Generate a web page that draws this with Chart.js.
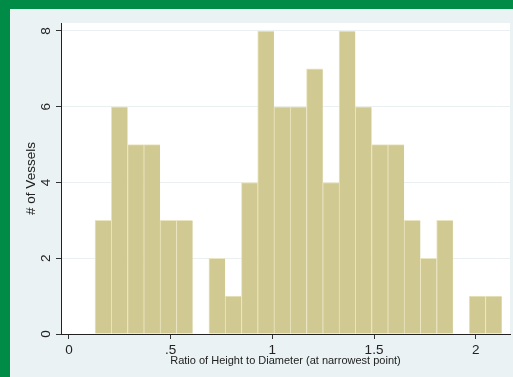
<!DOCTYPE html>
<html>
<head>
<meta charset="utf-8">
<script src="https://cdn.jsdelivr.net/npm/chart.js@4"></script>
<style>
  html, body { margin: 0; padding: 0; }
  body { width: 513px; height: 377px; background: #008b47; position: relative; overflow: hidden; }
  #frame { position: absolute; left: 10px; top: 9px; width: 503px; height: 368px; background: #eaf2f3; }
</style>
</head>
<body>
<div id="frame"><canvas id="histChart" width="503" height="368"></canvas></div>
<script>
// histogram bins: left edge of the first bin and the bin width
const binStart = 0.128;
const binWidth = 0.08;
const vesselCounts = [3, 6, 5, 5, 3, 3, 0, 2, 1, 4, 8, 6, 6, 7, 4, 8, 6, 5, 5, 3, 2, 3, 0, 1, 1];

const xTickValues = [0, 0.5, 1, 1.5, 2];
const xTickLabels = ['0', '.5', '1', '1.5', '2'];
const yTickValues = [0, 2, 4, 6, 8];
const yTickLabels = ['0', '2', '4', '6', '8'];

const fontFamily = '"Liberation Sans", Arial, sans-serif';
const textColor = '#222';

// white plot region behind the bars
const plotBackground = {
  id: 'plotBackground',
  beforeDraw(chart) {
    const { ctx, chartArea: a } = chart;
    ctx.save();
    ctx.fillStyle = '#ffffff';
    ctx.fillRect(a.left, a.top, a.right - a.left, a.bottom - a.top);
    ctx.restore();
  }
};

// y tick labels are drawn turned sideways
const rotatedYLabels = {
  id: 'rotatedYLabels',
  afterDraw(chart) {
    const { ctx } = chart;
    const yScale = chart.scales.y;
    ctx.save();
    ctx.font = '13.5px ' + fontFamily;
    ctx.fillStyle = textColor;
    ctx.textAlign = 'center';
    ctx.textBaseline = 'alphabetic';
    yTickValues.forEach((v, i) => {
      ctx.save();
      ctx.translate(40, yScale.getPixelForValue(v));
      ctx.rotate(-Math.PI / 2);
      ctx.fillText(yTickLabels[i], 0, 0);
      ctx.restore();
    });
    ctx.restore();
  }
};

new Chart(document.getElementById('histChart'), {
  type: 'bar',
  data: {
    datasets: [{
      label: '# of Vessels',
      data: vesselCounts.map((n, i) => ({ x: binStart + (i + 0.5) * binWidth, y: n })),
      backgroundColor: 'rgb(209, 201, 146)',
      borderColor: 'rgb(234, 229, 192)',
      borderWidth: { top: 1, left: 1, right: 0, bottom: 0 },
      borderSkipped: false,
      barPercentage: 1,
      categoryPercentage: 1
    }]
  },
  options: {
    responsive: false,
    animation: false,
    layout: { padding: { top: 14, right: 3, bottom: 0, left: 0 } },
    plugins: {
      legend: { display: false },
      tooltip: { enabled: false }
    },
    scales: {
      x: {
        type: 'linear',
        min: -0.0393,
        max: 2.1688,
        offset: false,
        afterBuildTicks: s => { s.ticks = xTickValues.map(v => ({ value: v })); },
        afterFit: s => { s.height = 43; },
        ticks: {
          callback: (v, i) => xTickLabels[i],
          font: { family: fontFamily, size: 13.5 },
          color: textColor,
          padding: 3,
          maxRotation: 0
        },
        grid: { offset: false, drawOnChartArea: false, tickLength: 5, tickColor: '#333' },
        border: { color: textColor, width: 1 },
        title: {
          display: true,
          text: 'Ratio of Height to Diameter (at narrowest point)',
          font: { family: fontFamily, size: 11 },
          color: textColor,
          padding: { top: 0, bottom: 9.4 }
        }
      },
      y: {
        min: 0,
        max: 8.211,
        afterBuildTicks: s => { s.ticks = yTickValues.map(v => ({ value: v })); },
        afterFit: s => { s.width = 51; },
        ticks: { display: false },
        grid: {
          color: c => (c.tick && c.tick.value === 0) ? 'rgba(0,0,0,0)' : '#eaf0f1',
          tickLength: 5,
          tickColor: '#333'
        },
        border: { color: textColor, width: 1 },
        title: {
          display: true,
          text: '# of Vessels',
          font: { family: fontFamily, size: 13.5 },
          color: textColor,
          padding: { top: 13.4, bottom: 0 }
        }
      }
    }
  },
  plugins: [plotBackground, rotatedYLabels]
});
</script>
</body>
</html>
